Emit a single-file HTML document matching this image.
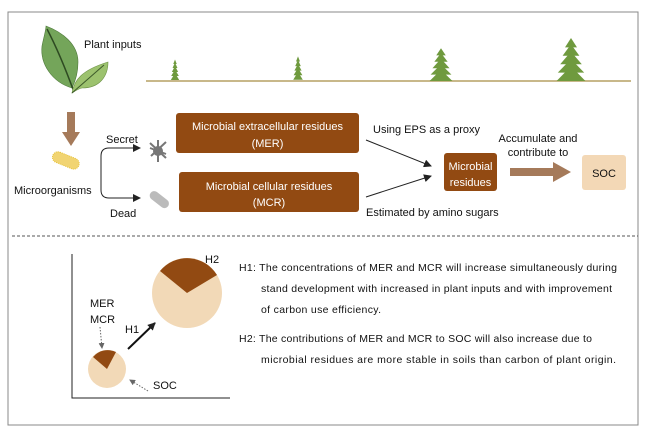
<!DOCTYPE html>
<html><head><meta charset="utf-8"><style>
body{margin:0;background:#fff}
svg text{font-family:"Liberation Sans",sans-serif}
</style></head><body>
<svg width="648" height="432" viewBox="0 0 648 432" xmlns="http://www.w3.org/2000/svg">
<defs>
<marker id="ah" markerWidth="8" markerHeight="8" refX="7" refY="4" orient="auto" markerUnits="userSpaceOnUse"><path d="M0,0 L8,4 L0,8 z" fill="#222"/></marker>
<marker id="ah2" markerWidth="6" markerHeight="6" refX="5" refY="3" orient="auto" markerUnits="userSpaceOnUse"><path d="M0,0 L6,3 L0,6 z" fill="#666"/></marker>
<g id="tree"><polygon points="0,-1 5,8 -5,8" /><polygon points="0,5 7,16 -7,16"/><polygon points="0,12 9,24 -9,24"/><polygon points="0,19 11,32 -11,32"/><polygon points="0,26 12,40 -12,40"/></g>
</defs>
<rect x="8" y="12" width="630" height="413" fill="none" stroke="#888" stroke-width="1"/>
<path d="M72,88 C52,82 40,64 42,46 C44,36 46,30 46,26 C62,32 78,44 78,62 C78,74 75,82 72,88z" fill="#74a55a" stroke="#4f7a3c" stroke-width="0.6"/>
<path d="M47,29 C58,50 66,70 74,92" stroke="#2e4a22" stroke-width="1.5" fill="none"/>
<path d="M72,93 C74,80 82,70 108,62 C108,76 100,88 82,88 C78,89 75,91 72,93z" fill="#9cc26e" stroke="#6f9448" stroke-width="0.6"/>
<path d="M72,93 L104,65" stroke="#3d5a2a" stroke-width="1"/>
<text x="84" y="48" font-size="11" fill="#111">Plant inputs</text>
<line x1="146" y1="81" x2="631" y2="81" stroke="#c8b88a" stroke-width="2"/>
<g fill="#6f9a3e">
<use href="#tree" transform="translate(175,60) scale(0.35,0.5)"/>
<use href="#tree" transform="translate(298,57) scale(0.4,0.57)"/>
<use href="#tree" transform="translate(441,49) scale(0.95,0.8)"/>
<use href="#tree" transform="translate(571,39) scale(1.2,1.05)"/>
</g>
<rect x="67" y="112" width="8" height="20" fill="#a57a5a"/>
<polygon points="62,132 80,132 71,146" fill="#a57a5a"/>
<rect x="52" y="155" width="28" height="11" rx="5.5" fill="#f1d472" stroke="#e6c23a" stroke-width="1" stroke-dasharray="1 1" transform="rotate(22 66 160)"/>
<text x="14" y="194" font-size="11" fill="#111">Microorganisms</text>
<path d="M101,186 L101,156 Q101,148 109,148 L140,148" fill="none" stroke="#222" stroke-width="1" marker-end="url(#ah)"/>
<path d="M101,176 L101,190 Q101,198 109,198 L140,198" fill="none" stroke="#222" stroke-width="1" marker-end="url(#ah)"/>
<text x="106" y="143" font-size="11" fill="#111">Secret</text>
<text x="110" y="217" font-size="11" fill="#111">Dead</text>
<g stroke="#777" stroke-width="2"><line x1="150" y1="148" x2="166" y2="154"/><line x1="158" y1="140" x2="158" y2="162"/><line x1="151" y1="156" x2="166" y2="142"/><line x1="150" y1="143" x2="166" y2="158"/></g>
<circle cx="158" cy="151" r="5" fill="#777"/>
<rect x="148" y="195" width="22" height="9" rx="4.5" fill="#bbb" transform="rotate(38 159 200)"/>
<rect x="176" y="113" width="183" height="40" rx="3" fill="#924a12"/>
<text x="267.5" y="130" font-size="11" fill="#fff" text-anchor="middle">Microbial extracellular residues</text>
<text x="267.5" y="147" font-size="11" fill="#fff" text-anchor="middle">(MER)</text>
<rect x="179" y="172" width="180" height="40" rx="3" fill="#924a12"/>
<text x="269" y="190" font-size="11" fill="#fff" text-anchor="middle">Microbial cellular residues</text>
<text x="269" y="206" font-size="11" fill="#fff" text-anchor="middle">(MCR)</text>
<text x="373" y="133" font-size="11" fill="#111">Using EPS as a proxy</text>
<text x="366" y="216" font-size="11" fill="#111">Estimated by amino sugars</text>
<line x1="366" y1="140" x2="431" y2="166" stroke="#222" stroke-width="1" marker-end="url(#ah)"/>
<line x1="366" y1="197" x2="431" y2="176" stroke="#222" stroke-width="1" marker-end="url(#ah)"/>
<rect x="444" y="153" width="53" height="38" rx="3" fill="#924a12"/>
<text x="470.5" y="170" font-size="11" fill="#fff" text-anchor="middle">Microbial</text>
<text x="470.5" y="186" font-size="11" fill="#fff" text-anchor="middle">residues</text>
<text x="538" y="142" font-size="11" fill="#111" text-anchor="middle">Accumulate and</text>
<text x="538" y="156" font-size="11" fill="#111" text-anchor="middle">contribute to</text>
<rect x="510" y="168" width="44" height="8" fill="#a57a5a"/>
<polygon points="553,162 571,172 553,182" fill="#a57a5a"/>
<rect x="582" y="155" width="44" height="35" rx="3" fill="#f3d8b6"/>
<text x="604" y="177" font-size="11" fill="#111" text-anchor="middle">SOC</text>
<line x1="12" y1="236" x2="638" y2="236" stroke="#555" stroke-width="1" stroke-dasharray="3 2"/>
<polyline points="72,254 72,398 230,398" fill="none" stroke="#222" stroke-width="1"/>
<circle cx="187" cy="293" r="35" fill="#f2d9b7"/>
<path d="M187,293 L160,271 A35,35 0 0 1 217,275 z" fill="#924a12"/>
<circle cx="107" cy="369" r="19" fill="#f2d9b7"/>
<path d="M107,369 L93,357 A19,19 0 0 1 116,352 z" fill="#924a12"/>
<text x="205" y="263" font-size="11" fill="#111">H2</text>
<text x="125" y="333" font-size="11" fill="#111">H1</text>
<line x1="128" y1="349" x2="155" y2="323" stroke="#111" stroke-width="2" marker-end="url(#ah)"/>
<text x="90" y="307" font-size="11" fill="#111">MER</text>
<text x="90" y="323" font-size="11" fill="#111">MCR</text>
<line x1="100" y1="327" x2="102" y2="348" stroke="#666" stroke-width="1" stroke-dasharray="1.5 1.5" marker-end="url(#ah2)"/>
<line x1="148" y1="391" x2="130" y2="380" stroke="#666" stroke-width="1" stroke-dasharray="1.5 1.5" marker-end="url(#ah2)"/>
<text x="153" y="389" font-size="11" fill="#111">SOC</text>
<g font-size="10.5" fill="#111">
<text x="239" y="271" textLength="378" lengthAdjust="spacing">H1: The concentrations of MER and MCR will increase simultaneously during</text>
<text x="261" y="292" textLength="351" lengthAdjust="spacing">stand development with increased in plant inputs and with improvement</text>
<text x="261" y="313" textLength="120" lengthAdjust="spacing">of carbon use efficiency.</text>
<text x="239" y="342" textLength="353" lengthAdjust="spacing">H2: The contributions of MER and MCR to SOC will also increase due to</text>
<text x="261" y="363" textLength="355" lengthAdjust="spacing">microbial residues are more stable in soils than carbon of plant origin.</text>
</g>
</svg>
</body></html>
